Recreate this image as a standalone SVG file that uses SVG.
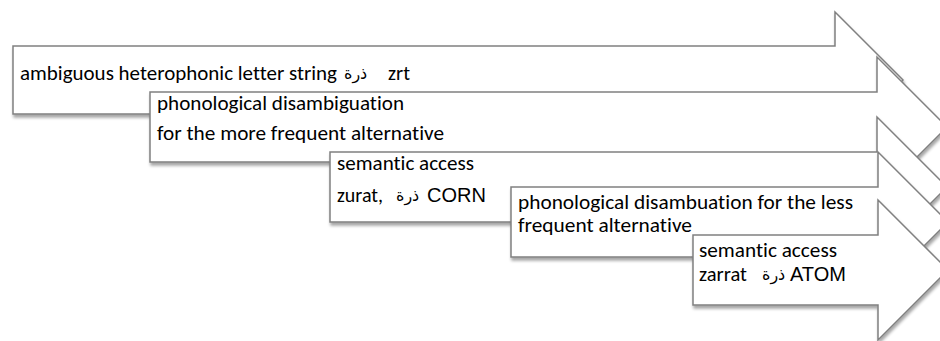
<svg xmlns="http://www.w3.org/2000/svg" width="940" height="341" viewBox="0 0 940 341">
<style>
.arr{fill:#fff;stroke:#808080;stroke-width:1.5;stroke-linejoin:miter;filter:url(#sh)}
.t{font-family:Carlito,Lato,"Open Sans",sans-serif;font-size:20px;fill:#000;font-variant-ligatures:none}
.ar{font-family:"DejaVu Sans","Noto Sans",sans-serif;font-size:16px;fill:#000}
.a{font-family:"Liberation Sans",Arial,sans-serif;font-size:20px;fill:#000}
</style>
<defs>
<filter id="sh" x="-5%" y="-10%" width="115%" height="130%">
<feDropShadow dx="1" dy="3" stdDeviation="1.5" flood-color="#000" flood-opacity="0.35"/>
</filter>
</defs>
<rect width="940" height="341" fill="#fff"/>
<g id="step1">
<path class="arr" d="M13,46 H835 V12 L903,80 L835,148 V114 H13 Z"/>
<text class="t" x="20" y="80" textLength="317" lengthAdjust="spacingAndGlyphs">ambiguous heterophonic letter string</text>
<text class="ar" x="344" y="79">ذرة</text>
<text class="t" x="388" y="80" textLength="22" lengthAdjust="spacingAndGlyphs">zrt</text>
</g>
<g id="step2">
<path class="arr" d="M150,92 H877 V57 L947,127 L877,197 V162 H150 Z"/>
<text class="t" x="157" y="110" textLength="247" lengthAdjust="spacingAndGlyphs">phonological disambiguation</text>
<text class="t" x="157" y="140" textLength="287" lengthAdjust="spacingAndGlyphs">for the more frequent alternative</text>
</g>
<g id="step3">
<path class="arr" d="M330,152 H877 V117 L947,187 L877,257 V222 H330 Z"/>
<text class="t" x="337" y="170" textLength="137" lengthAdjust="spacingAndGlyphs">semantic access</text>
<text class="t" x="337" y="202" textLength="46" lengthAdjust="spacingAndGlyphs">zurat,</text>
<text class="ar" x="396" y="201">ذرة</text>
<text class="a" x="427" y="202">CORN</text>
</g>
<g id="step4">
<path class="arr" d="M511,187 H878 V152 L948,222 L878,292 V257 H511 Z"/>
<text class="t" x="518" y="209" textLength="335" lengthAdjust="spacingAndGlyphs">phonological disambuation for the less</text>
<text class="t" x="518" y="232" textLength="174" lengthAdjust="spacingAndGlyphs">frequent alternative</text>
</g>
<g id="step5">
<path class="arr" d="M693,235 H878 V200 L948,270 L878,340 V305 H693 Z"/>
<text class="t" x="699" y="257" textLength="138" lengthAdjust="spacingAndGlyphs">semantic access</text>
<text class="t" x="699" y="281" textLength="48" lengthAdjust="spacingAndGlyphs">zarrat</text>
<text class="ar" x="762" y="280">ذرة</text>
<text class="a" x="790" y="281">ATOM</text>
</g>
<g id="connectors"/>
</svg>
